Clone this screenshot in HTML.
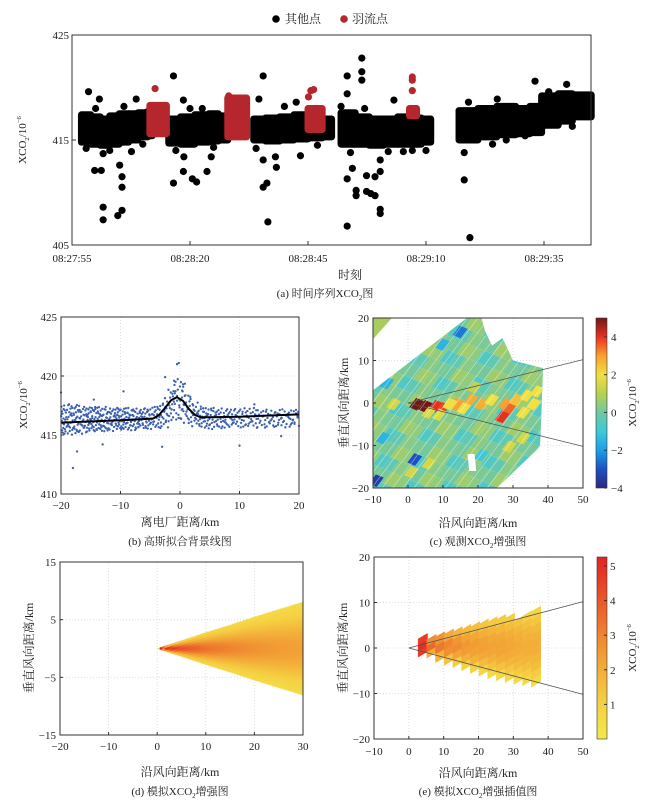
<!DOCTYPE html>
<html><head><meta charset="utf-8">
<style>
html,body{margin:0;padding:0;background:#fff;}
svg{display:block;}
text{font-family:"Liberation Serif","Noto Serif CJK SC",serif;fill:#222;}
</style></head>
<body>
<svg id="fig" width="652" height="806" viewBox="0 0 652 806" xmlns="http://www.w3.org/2000/svg">
<defs>
<clipPath id="clipC"><rect x="373" y="318" width="210" height="170"/></clipPath>
<clipPath id="clipE"><rect x="374" y="557" width="209" height="182"/></clipPath>
<clipPath id="clipD"><rect x="60" y="562" width="243" height="173"/></clipPath>
<linearGradient id="cbC" x1="0" y1="1" x2="0" y2="0">
<stop offset="0" stop-color="#2a2a80"/><stop offset="0.111" stop-color="#2050c0"/><stop offset="0.222" stop-color="#1aa0e8"/><stop offset="0.333" stop-color="#40c8d8"/><stop offset="0.444" stop-color="#70c8a0"/><stop offset="0.556" stop-color="#b8d050"/><stop offset="0.667" stop-color="#f0e040"/><stop offset="0.778" stop-color="#f8a030"/><stop offset="0.889" stop-color="#e83020"/><stop offset="1" stop-color="#701818"/>
</linearGradient>
<linearGradient id="cbE" x1="0" y1="1" x2="0" y2="0">
<stop offset="0" stop-color="#f2e84b"/><stop offset="0.2" stop-color="#f5d042"/><stop offset="0.45" stop-color="#f2a035"/><stop offset="0.75" stop-color="#ea5a2a"/><stop offset="1" stop-color="#e22222"/>
</linearGradient>
</defs>
</svg>
<script>
// ---------- data: panel a ----------
const aTicksT = [0,25,50,75,100];
const aTickLabels = ['08:27:55','08:28:20','08:28:45','08:29:10','08:29:35'];
const aYTicks = [405,415,425];
const aBandT0 = [2,4,6,8,10,12,14,16, 20.5,23,26,29,31, 38.5,41,44,47,50,53, 57,60,63,66,69,72,74, 82,86,90,94,97,99.5,103,106];
const aBandT1 = [4,6,8,10,12,14,16,17, 23,26,29,31,33, 41,44,47,50,53,55, 60,63,66,69,72,74,76, 86,90,94,97,99.5,103,106,110];
const aBandLo = [414.8,414.6,414.5,414.6,414.8,415.0,415.3,415.4, 414.7,414.6,414.8,414.9,415.0, 415.0,414.9,415.0,415.1,415.2,415.3, 414.6,414.6,414.5,414.6,414.6,414.6,414.8, 415.0,415.3,415.5,415.6,415.7,416.4,416.8,417.2];
const aBandHi = [417.4,417.2,417.0,417.3,417.5,417.5,417.6,417.7, 417.0,417.2,417.4,417.5,417.3, 417.0,417.1,417.2,417.4,417.0,417.0, 417.6,417.2,417.0,417.0,417.2,417.1,417.0, 417.8,418.0,418.2,418.0,418.2,419.2,419.4,419.3];
const aRedT0 = [16.5,33,50,71.5];
const aRedT1 = [20,37,53,73];
const aRedLo = [415.6,415.3,416.0,417.3];
const aRedHi = [418.3,419.0,418.0,418.0];
const aOutT = [6.6,6.6,9.7,10.6,4.8,6.2,10.1,10.6,10.6,6.6,3.5,5.8,13.6,2.6,12.6,21.5,21.5,23.6,23.6,25.5,26.4,28.6,29.5,23.7,27.6,40.5,39.6,40.5,41.3,41.5,40.5,43.1,43.3,48.4,47.5,61.4,61.4,61.4,58.3,58.3,57,58.3,58.3,59.4,60.2,60.2,62.4,63.3,64.2,65.3,65.3,62.4,64.2,65.3,65.3,68.2,70.2,72.1,83.1,83.1,84.3,89.1,98.1,96,104.8,106,90.1,3,5,8,11,15,22,25,30,39,45,52,59,62,67,75,84,92,101];
const aOutV = [408.6,407.4,407.8,408.3,412.1,412.1,412.6,411.5,410.5,413.7,419.6,418.9,418.9,417.3,413.9,421.1,410.9,418.8,412,411.3,411,412,413.4,413.4,418,421.1,418.9,410.5,410.9,407.2,413.1,413.4,412.4,413.5,418.6,422.8,421.5,420.7,421.1,419.4,418.2,411.3,406.8,412.3,410.2,409.7,410.1,409.9,409.7,408.4,408,411.6,411.5,412,413.1,418.8,413.9,414,413.8,411.2,405.7,414.6,420.6,415.4,420.3,416.3,418.9,414.2,418.0,414.0,418.2,414.6,414.0,418.0,414.3,414.2,418.2,414.5,413.8,418.0,413.9,414.0,418.6,415.0,419.6];
const aRedOutT = [17.6,72.1,72.1,72.1,50.6,51.2,50.1,33.2];
const aRedOutV = [419.9,421.0,420.7,419.7,419.7,419.8,419.1,419.2];

// ---------- data: panel b ----------
const bXTicks = [-20,-10,0,10,20];
const bYTicks = [410,415,420,425];
const bBinX = [-20,-19,-18,-17,-16,-15,-14,-13,-12,-11,-10,-9,-8,-7,-6,-5,-4,-3,-2,-1,0,1,2,3,4,5,6,7,8,9,10,11,12,13,14,15,16,17,18,19];
const bBinLo = [415.0,415.0,415.1,415.1,415.2,415.2,415.3,415.3,415.3,415.4,415.4,415.4,415.4,415.5,415.5,415.5,415.5,415.6,416.0,416.2,416.0,415.9,415.7,415.6,415.5,415.5,415.5,415.6,415.6,415.6,415.6,415.6,415.6,415.6,415.6,415.6,415.6,415.6,415.6,415.6];
const bBinHi = [417.7,417.7,417.6,417.5,417.4,417.5,417.4,417.4,417.3,417.4,417.3,417.3,417.3,417.3,417.3,417.4,417.6,418.2,419.0,419.8,419.5,418.5,417.8,417.5,417.3,417.3,417.3,417.3,417.3,417.3,417.3,417.3,417.3,417.2,417.2,417.2,417.2,417.2,417.2,417.2];
const bBinN = [22,22,22,22,22,22,22,20,20,20,20,20,20,18,18,16,16,16,16,18,18,16,14,16,16,14,14,14,12,12,12,12,12,10,10,10,10,10,10,10];
const bOutX = [-18,-17.3,-13,-3,10,-0.2,-0.5,-2.5,-9.5,-20,17,-14.5,-1,0.5,12.5];
const bOutV = [412.2,413.6,414.2,414.0,414.1,421.1,421.0,419.9,418.7,418.6,414.9,418.0,419.6,419.3,417.6];
const bLineX = [-20,-10,-4.5,-3.5,-2.5,-1.5,-0.5,0.5,1.5,2.5,3.5,5,10,20];
const bLineV = [416.05,416.25,416.4,416.7,417.3,417.95,418.2,417.9,417.2,416.7,416.5,416.5,416.55,416.75];

// ---------- data: panel c ----------
const cXTicks = [-10,0,10,20,30,40,50];
const cYTicks = [-20,-10,0,10,20];
const cCbTicks = [-4,-2,0,2,4];
const cSwathX = [-10,16.8,21,22,24,27,30,38.6,38,37.7,33,25.4,-10];
const cSwathY = [3,20,20,17,13.5,15.3,10,8.2,-5,-10.3,-14,-20,-20];
const cCellX = [1.5,4,7,9,13,17,20,27,28,26,30,33,35,11,15,23,5,8,36,32,-1,-7,-10,1,14,8,-4,9,-8,20,-5,0,5,32,28,18,-9];
const cCellY = [0,-0.5,-0.5,-1,0,1,0,0,-1,-3,1,2,0,0,-1,1,-2,-2.5,3,-2,12,5,-18,-13,17,19,9,14,-8,-12,0,-16,-14,-8,-10,4,18];
const cCellV = [5,5,4,3.8,3,2.8,2.8,3,3.5,4,2.5,2,2,2,2,2,1.6,1.6,2,2,-3.5,-1.5,-3.5,-3,-2.5,-3,-1,-1.5,-1.5,-1,1.5,1.5,1.5,1.5,1.5,1.2,1.0];
const cTileVals = [0.05,0.35,-0.6,0.65,0.15,-0.3,0.45];

// ---------- data: panel d ----------
const dXTicks = [-20,-10,0,10,20,30];
const dYTicks = [-15,-5,5,15];
const dAlong = [0,2,5,10,15,20,25,30];
const dCenter = [5.5,5.0,4.2,3.4,3.0,2.7,2.5,2.35];
const dHalf = [0,0.6,1.4,2.8,4.1,5.5,6.8,8.1];

// ---------- data: panel e ----------
const eXTicks = [-10,0,10,20,30,40,50];
const eCbTicks = [1,2,3,4,5];
const eColX = [4,6.5,9,11.5,14,16.5,19,21.5,24,26.5,29,31.5,34,36.5];
const eColTop = [2.0,1.8,2.4,3.0,3.5,4.0,4.6,5.2,5.7,6.2,6.5,5.8,7.0,8.0];
const eColBot = [-2.0,-2.2,-3.2,-3.8,-4.3,-5.0,-5.6,-6.2,-6.8,-7.2,-7.6,-8.0,-8.3,-8.6];
const eColCore = [5.0,3.6,3.3,3.0,2.8,2.6,2.5,2.4,2.3,2.3,2.2,2.1,2.0,2.0];
const eColEdge = [4.2,1.0,0.8,0.8,0.7,0.7,0.7,0.6,0.6,0.6,0.6,0.6,0.6,0.6];

const NS='http://www.w3.org/2000/svg';
const svg=document.getElementById('fig');
function mk(tag,attrs,parent){const e=document.createElementNS(NS,tag);for(const k in attrs)e.setAttribute(k,attrs[k]);(parent||svg).appendChild(e);return e;}
function txt(x,y,s,size,anchor,parent,rot){const t=mk('text',{x:x,y:y,'font-size':size,'text-anchor':anchor||'middle'},parent);if(rot)t.setAttribute('transform','rotate(-90 '+x+' '+y+')');t.textContent=s;return t;}
function hex(h){return [parseInt(h.substr(1,2),16),parseInt(h.substr(3,2),16),parseInt(h.substr(5,2),16)];}
function lerpColor(stops,v){if(v<=stops[0][0])return stops[0][1];for(let i=1;i<stops.length;i++){if(v<=stops[i][0]){const a=stops[i-1],b=stops[i];const f=(v-a[0])/(b[0]-a[0]);const ca=hex(a[1]),cb=hex(b[1]);return 'rgb('+[0,1,2].map(k=>Math.round(ca[k]+(cb[k]-ca[k])*f)).join(',')+')';}}return stops[stops.length-1][1];}
const jetStops=[[-4,'#2a2a80'],[-3,'#2050c0'],[-2,'#1aa0e8'],[-1,'#40c8d8'],[0,'#70c8a0'],[1,'#b8d050'],[2,'#f0e040'],[3,'#f8a030'],[4,'#e83020'],[5,'#701818']];
const autStops=[[0,'#f2e84b'],[1.05,'#f5d042'],[2.4,'#f2a035'],[3.9,'#ea5a2a'],[5.26,'#e22222']];
function subLabel(x,y,pre,post,size,parent,rot,anchor){
  const t=mk('text',{x:x,y:y,'font-size':size,'text-anchor':anchor||'middle'},parent);
  if(rot)t.setAttribute('transform','rotate(-90 '+x+' '+y+')');
  const s1=mk('tspan',{},t);s1.textContent=pre;
  const s2=mk('tspan',{'font-size':size*0.6,dy:3},t);s2.textContent='2';
  const s3=mk('tspan',{dy:-3},t);s3.textContent='/10';
  const s4=mk('tspan',{'font-size':size*0.6,dy:-5},t);s4.textContent='−6';
  const s5=mk('tspan',{dy:5},t);s5.textContent=post||'';
  return t;
}
function caption(x,y,pre,post,parent){
  const t=mk('text',{x:x,y:y,'font-size':11,'text-anchor':'middle'},parent);
  const s1=mk('tspan',{},t);s1.textContent=pre;
  const s2=mk('tspan',{'font-size':7,dy:3},t);s2.textContent='2';
  const s3=mk('tspan',{dy:-3},t);s3.textContent=post;
  return t;
}

// ================= PANEL A =================
const gA=mk('g',{});


const aL=72,aR=591,aT=35,aB=245;
const ax=t=>aL+t*4.72, ay=v=>aB-(v-405)*(aB-aT)/20;
const aMarks=mk('g',{},gA);


for(let i=0;i<aBandT0.length;i++){
  const r=mk('rect',{x:ax(aBandT0[i])-3.5,y:ay(aBandHi[i])-3.5,width:ax(aBandT1[i])-ax(aBandT0[i])+7,height:ay(aBandLo[i])-ay(aBandHi[i])+7,rx:3.5,fill:'#000'},aMarks);
  
}
for(let i=0;i<aOutT.length;i++){
  const c=mk('circle',{cx:ax(aOutT[i]),cy:ay(aOutV[i]),r:3.6,fill:'#000'},aMarks);
  
}
for(let i=0;i<aRedT0.length;i++){
  const r=mk('rect',{x:ax(aRedT0[i])-3.5,y:ay(aRedHi[i])-3.5,width:ax(aRedT1[i])-ax(aRedT0[i])+7,height:ay(aRedLo[i])-ay(aRedHi[i])+7,rx:3.5,fill:'#b5272d'},aMarks);
  
}
for(let i=0;i<aRedOutT.length;i++){
  const c=mk('circle',{cx:ax(aRedOutT[i]),cy:ay(aRedOutV[i]),r:3.6,fill:'#b5272d'},aMarks);
  
}
mk('rect',{x:aL,y:aT,width:aR-aL,height:aB-aT,fill:'none',stroke:'#333','stroke-width':1},gA);
for(let i=0;i<aTicksT.length;i++){
  mk('line',{x1:ax(aTicksT[i]),x2:ax(aTicksT[i]),y1:aB,y2:aB-4,stroke:'#333'},gA);
  const t=txt(ax(aTicksT[i]),262,aTickLabels[i],11,'middle',gA);
  
}
for(const v of aYTicks){
  mk('line',{x1:aL,x2:aL+4,y1:ay(v),y2:ay(v),stroke:'#333'},gA);
  const t=txt(aL-3,ay(v)+4,String(v),11,'end',gA);
  
}
const aXT=txt(350,279,'时刻',12,'middle',gA);

const aYT=subLabel(26,140,'XCO','',11,gA,true);

const aCap=caption(325,297,'(a) 时间序列XCO','图',gA);

const leg=mk('g',{},gA);


const l1=mk('circle',{cx:276,cy:19,r:3.8,fill:'#000'},leg);

const l1t=txt(285,23,'其他点',12,'start',leg);

const l2=mk('circle',{cx:344,cy:19,r:3.8,fill:'#b5272d'},leg);

const l2t=txt(352,23,'羽流点',12,'start',leg);


// ================= PANEL B =================
const gB=mk('g',{});


const bL=61,bR=299,bT=317,bBt=494;
const bx=x=>bL+(x+20)*(bR-bL)/40, by=v=>bBt-(v-410)*(bBt-bT)/15;
for(const x of bXTicks) mk('line',{x1:bx(x),x2:bx(x),y1:bT,y2:bBt,stroke:'#ddd','stroke-dasharray':'1 2'},gB);
for(const v of bYTicks) mk('line',{x1:bL,x2:bR,y1:by(v),y2:by(v),stroke:'#ddd','stroke-dasharray':'1 2'},gB);
function halton(i,b){let f=1,r=0;while(i>0){f/=b;r+=f*(i%b);i=Math.floor(i/b);}return r;}
let hi=1;
const bPts=mk('g',{},gB);


for(let i=0;i<bBinX.length;i++){
  for(let k=0;k<bBinN[i];k++){
    const px=bBinX[i]+halton(hi,2), pv=bBinLo[i]+(bBinHi[i]-bBinLo[i])*halton(hi,3); hi++;
    const c=mk('circle',{cx:bx(px),cy:by(pv),r:1.15,fill:'#3a5fb0'},bPts);
    
  }
}
for(let i=0;i<bOutX.length;i++){
  const c=mk('circle',{cx:bx(bOutX[i]),cy:by(bOutV[i]),r:1.15,fill:'#3a5fb0'},bPts);
  
}
let bd='';
for(let i=0;i<bLineX.length;i++) bd+=(i?'L':'M')+bx(bLineX[i]).toFixed(1)+' '+by(bLineV[i]).toFixed(1);
const bLine=mk('path',{d:bd,fill:'none',stroke:'#000','stroke-width':2,'stroke-linejoin':'round'},gB);

mk('rect',{x:bL,y:bT,width:bR-bL,height:bBt-bT,fill:'none',stroke:'#333'},gB);
for(const x of bXTicks){mk('line',{x1:bx(x),x2:bx(x),y1:bBt,y2:bBt-3,stroke:'#333'},gB);const t=txt(bx(x),509,x<0?'−'+(-x):String(x),11,'middle',gB);}
for(const v of bYTicks){mk('line',{x1:bL,x2:bL+3,y1:by(v),y2:by(v),stroke:'#333'},gB);const t=txt(bL-4,by(v)+4,String(v),11,'end',gB);}
const bXT=txt(180,526,'离电厂距离/km',12,'middle',gB);

const bYT=subLabel(27,405,'XCO','',11,gB,true);

const bCap=txt(180,545,'(b) 高斯拟合背景线图',11,'middle',gB);


// ================= PANEL C =================
const gC=mk('g',{});


const cL=373,cR=583,cT=318,cB=488;
const cx=x=>cL+(x+10)*(cR-cL)/60, cy=y=>cB-(y+20)*(cB-cT)/40;
for(const x of cXTicks) mk('line',{x1:cx(x),x2:cx(x),y1:cT,y2:cB,stroke:'#ddd','stroke-dasharray':'1 2'},gC);
for(const y of cYTicks) mk('line',{x1:cL,x2:cR,y1:cy(y),y2:cy(y),stroke:'#ddd','stroke-dasharray':'1 2'},gC);
const cg=mk('g',{'clip-path':'url(#clipC)'},gC);
let sp='';for(let i=0;i<cSwathX.length;i++)sp+=cx(cSwathX[i]).toFixed(1)+','+cy(cSwathY[i]).toFixed(1)+' ';
mk('clipPath',{id:'swathC'},cg);
mk('polygon',{points:sp},document.getElementById('swathC'));
const swg=mk('g',{'clip-path':'url(#swathC)'},cg);


const U=[2.4,2.6],V=[2.6,-0.9];
function cellPts(ox,oy,s){return [[ox,oy],[ox+U[0]*s,oy+U[1]*s],[ox+(U[0]+V[0])*s,oy+(U[1]+V[1])*s],[ox+V[0]*s,oy+V[1]*s]].map(p=>cx(p[0]).toFixed(1)+','+cy(p[1]).toFixed(1)).join(' ');}
for(let i=-20;i<34;i++)for(let j=-12;j<34;j++){
  const ox=-12+i*U[0]+j*V[0], oy=-24+i*U[1]+j*V[1];
  if(ox<-14||ox>42||oy<-23||oy>23)continue;
  const val=cTileVals[((i*5+j*3)%7+7)%7];
  const p=mk('polygon',{points:cellPts(ox,oy,1),fill:lerpColor(jetStops,val)},swg);
  
}
for(let i=0;i<cCellX.length;i++){
  const p=mk('polygon',{points:cellPts(cCellX[i]-1.2,cCellY[i]-1.0,0.85),fill:lerpColor(jetStops,cCellV[i])},swg);
  
}
for(let k=-14;k<16;k++){
  const x0=-14+k*3.0;
  mk('line',{x1:cx(x0),y1:cy(-24),x2:cx(x0+40),y2:cy(20),stroke:'rgba(255,255,255,0.55)','stroke-width':0.6},swg);
}
const frag=mk('polygon',{points:[[-10,20],[-4.6,20],[-10,15]].map(p=>cx(p[0])+','+cy(p[1])).join(' '),fill:'#a8cc60'},cg);

const hole=mk('polygon',{points:[[17,-12],[19,-12],[19.5,-16],[17.5,-16]].map(p=>cx(p[0])+','+cy(p[1])).join(' '),fill:'#fff'},cg);

const cw1=mk('line',{x1:cx(0),y1:cy(0),x2:cx(50),y2:cy(10.2),stroke:'#555','stroke-width':0.8},gC);

const cw2=mk('line',{x1:cx(0),y1:cy(0),x2:cx(50),y2:cy(-10.2),stroke:'#555','stroke-width':0.8},gC);

mk('rect',{x:cL,y:cT,width:cR-cL,height:cB-cT,fill:'none',stroke:'#333'},gC);
for(const x of cXTicks){mk('line',{x1:cx(x),x2:cx(x),y1:cB,y2:cB-3,stroke:'#333'},gC);const t=txt(cx(x),503,x<0?'−'+(-x):String(x),11,'middle',gC);}
for(const y of cYTicks){mk('line',{x1:cL,x2:cL+3,y1:cy(y),y2:cy(y),stroke:'#333'},gC);const t=txt(cL-4,cy(y)+4,y<0?'−'+(-y):String(y),11,'end',gC);}
const cbC=mk('rect',{x:596,y:cT,width:11,height:cB-cT,fill:'url(#cbC)',stroke:'#333','stroke-width':0.6},gC);

for(const v of cCbTicks){const yy=cB-(v+4)*(cB-cT)/9;mk('line',{x1:604,x2:607,y1:yy,y2:yy,stroke:'#333'},gC);const t=txt(611,yy+4,v<0?'−'+(-v):String(v),11,'start',gC);}
const cXT=txt(478,527,'沿风向距离/km',12,'middle',gC);

const cYT=txt(348,403,'垂直风向距离/km',12,'middle',gC,true);

const cCb=subLabel(636,403,'XCO','',11,gC,true);

const cCap=caption(478,545,'(c) 观测XCO','增强图',gC);


// ================= PANEL D =================
const gD=mk('g',{});


const dL=60,dR=303,dT=562,dB=735;
const dx=x=>dL+(x+20)*(dR-dL)/50, dy=y=>dB-(y+15)*(dB-dT)/30;
for(const x of dXTicks) mk('line',{x1:dx(x),x2:dx(x),y1:dT,y2:dB,stroke:'#ddd','stroke-dasharray':'1 2'},gD);
for(const y of dYTicks) mk('line',{x1:dL,x2:dR,y1:dy(y),y2:dy(y),stroke:'#ddd','stroke-dasharray':'1 2'},gD);
function interp(xs,ys,x){if(x<=xs[0])return ys[0];for(let i=1;i<xs.length;i++)if(x<=xs[i])return ys[i-1]+(ys[i]-ys[i-1])*(x-xs[i-1])/(xs[i]-xs[i-1]);return ys[ys.length-1];}
const dField=mk('g',{'clip-path':'url(#clipD)'},gD);


const step=2.5;
for(let px=dx(0);px<dR;px+=step){
  const xk=(px+step/2-dL)*50/(dR-dL)-20;
  const hw=interp(dAlong,dHalf,xk), cv=interp(dAlong,dCenter,xk);
  const y0=dy(hw), y1=dy(-hw);
  for(let py=y0;py<y1;py+=step){
    const yk=15-(py+step/2-dT)*30/(dB-dT);
    const rel=Math.abs(yk)/Math.max(hw,0.01);
    const v=0.3+(cv-0.3)*Math.exp(-rel*rel*2.0);
    const r=mk('rect',{x:px.toFixed(1),y:py.toFixed(1),width:step+0.4,height:Math.min(step+0.4,y1-py+0.2),fill:lerpColor(autStops,v)},dField);
    
  }
}
mk('rect',{x:dL,y:dT,width:dR-dL,height:dB-dT,fill:'none',stroke:'#333'},gD);
for(const x of dXTicks){mk('line',{x1:dx(x),x2:dx(x),y1:dB,y2:dB-3,stroke:'#333'},gD);const t=txt(dx(x),750,x<0?'−'+(-x):String(x),11,'middle',gD);}
for(const y of dYTicks){mk('line',{x1:dL,x2:dL+3,y1:dy(y),y2:dy(y),stroke:'#333'},gD);const t=txt(dL-4,dy(y)+4,y<0?'−'+(-y):String(y),11,'end',gD);}
const dXT=txt(180,776,'沿风向距离/km',12,'middle',gD);

const dYT=txt(33,648,'垂直风向距离/km',12,'middle',gD,true);

const dCap=caption(180,795,'(d) 模拟XCO','增强图',gD);


// ================= PANEL E =================
const gE=mk('g',{});


const eL=374,eR=583,eT=557,eB=739;
const ex=x=>eL+(x+10)*(eR-eL)/60, ey=y=>eB-(y+20)*(eB-eT)/40;
for(const x of eXTicks) mk('line',{x1:ex(x),x2:ex(x),y1:eT,y2:eB,stroke:'#ddd','stroke-dasharray':'1 2'},gE);
for(const y of [-20,-10,0,10,20]) mk('line',{x1:eL,x2:eR,y1:ey(y),y2:ey(y),stroke:'#ddd','stroke-dasharray':'1 2'},gE);
const eg=mk('g',{'clip-path':'url(#clipE)'},gE);


const sh=1.2;
for(let i=0;i<eColX.length;i++){
  const x0=eColX[i]-1.35, x1=eColX[i]+1.35;
  const n=Math.max(2,Math.round((eColTop[i]-eColBot[i])/1.6));
  for(let k=0;k<n;k++){
    const ya=eColBot[i]+(eColTop[i]-eColBot[i])*k/n, yb=eColBot[i]+(eColTop[i]-eColBot[i])*(k+1)/n;
    const mid=(ya+yb)/2, span=Math.max(eColTop[i],-eColBot[i]);
    const rel=Math.abs(mid)/span;
    const v=eColCore[i]+(eColEdge[i]-eColCore[i])*Math.min(1,rel*rel*1.2);
    const pts=[[x0,ya],[x1,ya+sh],[x1,yb+sh],[x0,yb]].map(p=>ex(p[0]).toFixed(1)+','+ey(p[1]).toFixed(1)).join(' ');
    const p=mk('polygon',{points:pts,fill:lerpColor(autStops,v),stroke:lerpColor(autStops,v),'stroke-width':0.5},eg);
    
  }
}
const ew1=mk('line',{x1:ex(0),y1:ey(0),x2:ex(50),y2:ey(10.2),stroke:'#555','stroke-width':0.8},gE);

const ew2=mk('line',{x1:ex(0),y1:ey(0),x2:ex(50),y2:ey(-10.2),stroke:'#555','stroke-width':0.8},gE);

mk('rect',{x:eL,y:eT,width:eR-eL,height:eB-eT,fill:'none',stroke:'#333'},gE);
for(const x of eXTicks){mk('line',{x1:ex(x),x2:ex(x),y1:eB,y2:eB-3,stroke:'#333'},gE);const t=txt(ex(x),755,x<0?'−'+(-x):String(x),11,'middle',gE);}
for(const y of [-20,-10,0,10,20]){mk('line',{x1:eL,x2:eL+3,y1:ey(y),y2:ey(y),stroke:'#333'},gE);const t=txt(eL-4,ey(y)+4,y<0?'−'+(-y):String(y),11,'end',gE);}
const cbE=mk('rect',{x:597,y:eT,width:10,height:eB-eT,fill:'url(#cbE)',stroke:'#333','stroke-width':0.6},gE);

for(const v of eCbTicks){const yy=eB-v*(eB-eT)/5.26;mk('line',{x1:604,x2:607,y1:yy,y2:yy,stroke:'#333'},gE);const t=txt(610,yy+4,String(v),11,'start',gE);}
const eXT=txt(478,777,'沿风向距离/km',12,'middle',gE);

const eYT=txt(347,648,'垂直风向距离/km',12,'middle',gE,true);

const eCb=subLabel(636,648,'XCO','',11,gE,true);

const eCap=caption(478,795,'(e) 模拟XCO','增强插值图',gE);

</script>
</body></html>
